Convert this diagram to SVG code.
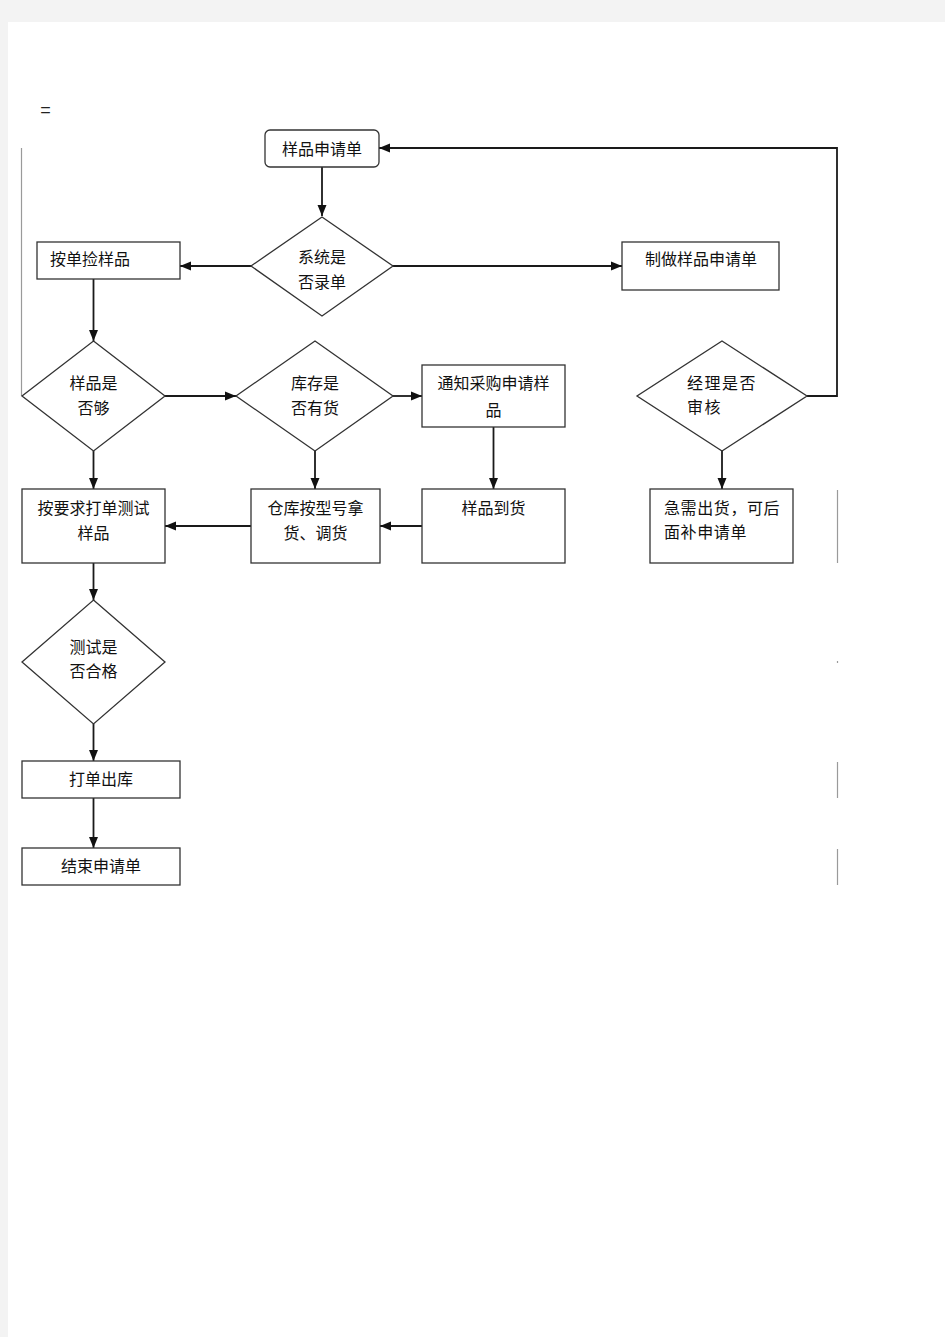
<svg xmlns="http://www.w3.org/2000/svg" width="945" height="1337" viewBox="0 0 945 1337">
<style>
.box{fill:#fff;stroke:#333;stroke-width:1.3}
.dia{fill:#fff;stroke:#333;stroke-width:1.3}
.t{font-family:"Noto Sans CJK SC","Liberation Sans",sans-serif;font-size:16px;fill:#111}
.c{text-anchor:middle}
.con{fill:none;stroke:#1a1a1a;stroke-width:1.8}
.gray{fill:none;stroke:#9a9a9a;stroke-width:1.2}
</style>
<defs>
<marker id="arr" markerUnits="userSpaceOnUse" markerWidth="11" markerHeight="10" refX="11" refY="5" orient="auto">
<path d="M0,0.5 L11,5 L0,9.5 z" fill="#111"/>
</marker>
</defs>
<rect x="0" y="0" width="945" height="1337" fill="#f3f3f3"/>
<rect x="8" y="22" width="937" height="1315" fill="#fff"/>
<text x="45.5" y="116" font-family="Liberation Sans, sans-serif" font-size="18" fill="#222" text-anchor="middle">=</text>

<g id="decor">
<line class="gray" x1="21.5" y1="148" x2="21.5" y2="396"/>
<line class="gray" x1="837.5" y1="490" x2="837.5" y2="563"/>
<line class="gray" x1="837.5" y1="661" x2="837.5" y2="663"/>
<line class="gray" x1="837.5" y1="762" x2="837.5" y2="798"/>
<line class="gray" x1="837.5" y1="849" x2="837.5" y2="885"/>
</g>

<g id="connectors">
<line class="con" x1="322" y1="167" x2="322" y2="216" marker-end="url(#arr)"/>
<line class="con" x1="251" y1="266" x2="180" y2="266" marker-end="url(#arr)"/>
<line class="con" x1="393" y1="266" x2="622" y2="266" marker-end="url(#arr)"/>
<line class="con" x1="93.5" y1="279" x2="93.5" y2="341" marker-end="url(#arr)"/>
<line class="con" x1="165" y1="396" x2="236" y2="396" marker-end="url(#arr)"/>
<line class="con" x1="393" y1="396" x2="422" y2="396" marker-end="url(#arr)"/>
<line class="con" x1="493.5" y1="427" x2="493.5" y2="489" marker-end="url(#arr)"/>
<line class="con" x1="422" y1="526" x2="380" y2="526" marker-end="url(#arr)"/>
<line class="con" x1="251" y1="526" x2="165" y2="526" marker-end="url(#arr)"/>
<line class="con" x1="93.5" y1="451" x2="93.5" y2="489" marker-end="url(#arr)"/>
<line class="con" x1="315" y1="451" x2="315" y2="489" marker-end="url(#arr)"/>
<line class="con" x1="93.5" y1="563" x2="93.5" y2="600" marker-end="url(#arr)"/>
<line class="con" x1="93.5" y1="724" x2="93.5" y2="761" marker-end="url(#arr)"/>
<line class="con" x1="93.5" y1="798" x2="93.5" y2="848" marker-end="url(#arr)"/>
<line class="con" x1="722" y1="451" x2="722" y2="489" marker-end="url(#arr)"/>
<polyline class="con" points="807,396 837,396 837,148 379,148" marker-end="url(#arr)"/>
</g>

<g id="n-apply">
<rect class="box" x="265" y="130" width="114" height="37" rx="5"/>
<text class="t c" x="322" y="155">样品申请单</text>
</g>
<g id="n-system">
<polygon class="dia" points="322,217 393,266 322,316 251,266"/>
<text class="t c" x="322" y="263">系统是</text>
<text class="t c" x="322" y="288">否录单</text>
</g>
<g id="n-pick">
<rect class="box" x="37" y="242" width="143" height="37"/>
<text class="t" x="50" y="265">按单捡样品</text>
</g>
<g id="n-make">
<rect class="box" x="622" y="242" width="157" height="48"/>
<text class="t c" x="701" y="265">制做样品申请单</text>
</g>
<g id="n-enough">
<polygon class="dia" points="93.5,341 165,396 93.5,451 22,396"/>
<text class="t c" x="93.5" y="389">样品是</text>
<text class="t c" x="93.5" y="414">否够</text>
</g>
<g id="n-stock">
<polygon class="dia" points="315,341 393,396 315,451 236,396"/>
<text class="t c" x="315" y="389">库存是</text>
<text class="t c" x="315" y="414">否有货</text>
</g>
<g id="n-notify">
<rect class="box" x="422" y="365" width="143" height="62"/>
<text class="t c" x="493.5" y="389">通知采购申请样</text>
<text class="t c" x="493.5" y="416">品</text>
</g>
<g id="n-manager">
<polygon class="dia" points="722,341 807,396 722,451 637,396"/>
<text class="t" x="687" y="389" letter-spacing="1.5">经理是否</text>
<text class="t" x="687" y="413" letter-spacing="1.5">审核</text>
</g>
<g id="n-test-print">
<rect class="box" x="22" y="489" width="143" height="74"/>
<text class="t c" x="93.5" y="514">按要求打单测试</text>
<text class="t c" x="93.5" y="539">样品</text>
</g>
<g id="n-warehouse">
<rect class="box" x="251" y="489" width="129" height="74"/>
<text class="t c" x="315.5" y="514">仓库按型号拿</text>
<text class="t c" x="315.5" y="539">货、调货</text>
</g>
<g id="n-arrive">
<rect class="box" x="422" y="489" width="143" height="74"/>
<text class="t c" x="493.5" y="514">样品到货</text>
</g>
<g id="n-urgent">
<rect class="box" x="650" y="489" width="143" height="74"/>
<text class="t" x="664" y="514" letter-spacing="0.6">急需出货，可后</text>
<text class="t" x="664" y="538" letter-spacing="0.6">面补申请单</text>
</g>
<g id="n-pass">
<polygon class="dia" points="93.5,600 165,662 93.5,724 22,662"/>
<text class="t c" x="93.5" y="653">测试是</text>
<text class="t c" x="93.5" y="677">否合格</text>
</g>
<g id="n-out">
<rect class="box" x="22" y="761" width="158" height="37"/>
<text class="t c" x="101" y="785">打单出库</text>
</g>
<g id="n-end">
<rect class="box" x="22" y="848" width="158" height="37"/>
<text class="t c" x="101" y="872">结束申请单</text>
</g>
</svg>
